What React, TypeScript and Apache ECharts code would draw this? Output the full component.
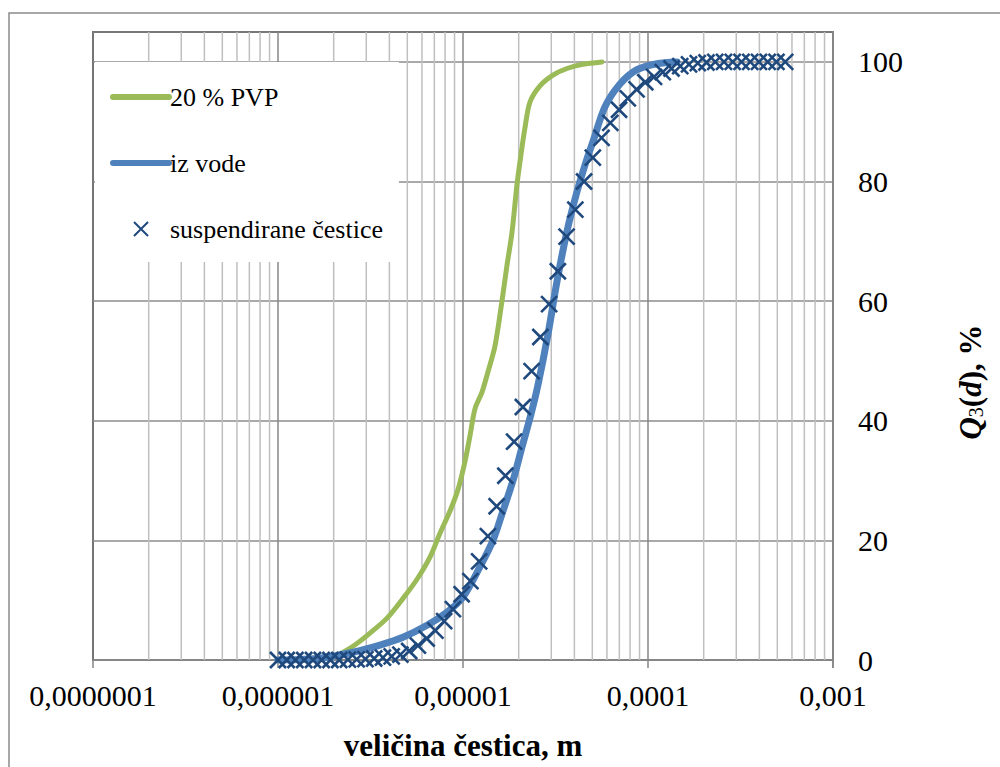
import { useEffect, useRef } from 'react';
import * as echarts from 'echarts';

const xTickLabels = ['0,0000001', '0,000001', '0,00001', '0,0001', '0,001'];
const seriesNames = ['20 % PVP', 'iz vode', 'suspendirane čestice'];

const minorGridX = [
  2e-7, 3e-7, 4e-7, 5e-7, 6e-7, 7e-7, 8e-7, 9e-7,
  2e-6, 3e-6, 4e-6, 5e-6, 6e-6, 7e-6, 8e-6, 9e-6,
  2e-5, 3e-5, 4e-5, 5e-5, 6e-5, 7e-5, 8e-5, 9e-5,
  2e-4, 3e-4, 4e-4, 5e-4, 6e-4, 7e-4, 8e-4, 9e-4,
];

const pvpX = [
  1.0e-6, 1.315e-6, 1.687e-6, 1.983e-6, 2.543e-6, 3.143e-6, 3.884e-6, 4.74e-6,
  5.642e-6, 6.63e-6, 7.509e-6, 8.504e-6, 9.397e-6, 1.025e-5, 1.091e-5, 1.161e-5,
  1.267e-5, 1.365e-5, 1.489e-5, 1.624e-5, 1.729e-5, 1.84e-5, 1.958e-5, 2.058e-5,
  2.163e-5, 2.302e-5, 2.607e-5, 3.065e-5, 3.65e-5, 4.453e-5, 5.641e-5,
];
const pvpY = [
  0, 0, 0.2, 0.5, 2.3, 4.5, 7, 10.3,
  13.5, 17.2, 21.2, 24.9, 28.5, 33.2, 37.5, 42,
  44.8, 48.2, 52.5, 60, 66, 71.5, 79.5, 84.5,
  89, 93.3, 96, 97.8, 98.9, 99.6, 100,
];

const vodaX = [
  1.0e-6, 1.315e-6, 1.687e-6, 2.543e-6, 3.558e-6, 4.74e-6, 6.39e-6, 8.19e-6,
  1.0e-5, 1.236e-5, 1.453e-5, 1.624e-5, 1.863e-5, 2.084e-5, 2.331e-5, 2.543e-5,
  2.881e-5, 3.222e-5, 3.65e-5, 4.133e-5, 4.68e-5, 5.044e-5, 5.855e-5, 7.056e-5,
  8.72e-5, 1.118e-4, 1.435e-4,
];
const vodaY = [
  0, 0.1, 0.3, 1.3, 2.5, 3.8, 5.8, 8,
  10.5, 15.6, 20, 24.4, 30, 35.6, 41.1, 46,
  54.5, 63.3, 71.7, 78.3, 83.8, 86.7, 92.5, 96.3,
  98.7, 99.7, 100,
];

const susX = [
  1.0e-6, 1.115e-6, 1.243e-6, 1.386e-6, 1.546e-6, 1.723e-6, 1.921e-6, 2.142e-6,
  2.388e-6, 2.663e-6, 2.969e-6, 3.311e-6, 3.692e-6, 4.116e-6, 4.589e-6, 5.117e-6,
  5.706e-6, 6.362e-6, 7.094e-6, 7.909e-6, 8.819e-6, 9.833e-6, 1.0965e-5, 1.2226e-5,
  1.363e-5, 1.52e-5, 1.694e-5, 1.889e-5, 2.107e-5, 2.349e-5, 2.619e-5, 2.92e-5,
  3.256e-5, 3.63e-5, 4.048e-5, 4.513e-5, 5.032e-5, 5.611e-5, 6.256e-5, 6.975e-5,
  7.777e-5, 8.672e-5, 9.669e-5, 1.078e-4, 1.202e-4, 1.34e-4, 1.494e-4, 1.666e-4,
  1.858e-4, 2.071e-4, 2.31e-4, 2.575e-4, 2.871e-4, 3.202e-4, 3.57e-4, 3.98e-4,
  4.438e-4, 4.948e-4, 5.517e-4,
];
const susY = [
  0, 0, 0, 0, 0, 0, 0, 0,
  0.05, 0.1, 0.15, 0.25, 0.4, 0.6, 0.9, 1.5,
  2.4, 3.6, 4.9, 6.5, 8.5, 11, 13.2, 16.5,
  20.7, 25.7, 30.8, 36.5, 42.3, 48.3, 54, 59.5,
  65, 70.8, 75.3, 80, 84, 87.3, 89.8, 92,
  93.9, 95.4, 96.6, 97.5, 98.3, 98.9, 99.3, 99.6,
  99.8, 99.9, 100, 100, 100, 100, 100, 100,
  100, 100, 100,
];

const GREEN = '#9BBB59';
const BLUE = '#4F81BD';
const MARK = '#1F497D';
const FONT = '"Liberation Serif", "Times New Roman", serif';

export default function App() {
  const ref = useRef<HTMLDivElement>(null);
  useEffect(() => {
    const chart = echarts.init(ref.current!, null, { renderer: 'svg' });
    const zip = (xs: number[], ys: number[]) => xs.map((x, i) => [x, ys[i]]);
    chart.setOption({
      animation: false,
      backgroundColor: '#ffffff',
      textStyle: { fontFamily: FONT },
      grid: {
        left: 93, right: 167, top: 32, bottom: 107,
        show: true, borderColor: '#000', borderWidth: 1.5,
      },
      legend: {
        show: true,
        orient: 'vertical',
        left: 95,
        top: 62,
        backgroundColor: '#ffffff',
        padding: [20, 16, 18, 15],
        itemGap: 36,
        itemWidth: 56,
        itemHeight: 14,
        textStyle: { fontSize: 26, fontFamily: FONT, color: '#000', lineHeight: 30, padding: [0, 0, 0, -4] },
        data: [
          { name: seriesNames[0], itemStyle: { opacity: 0 }, lineStyle: { width: 6, cap: 'round', color: GREEN } },
          { name: seriesNames[1], itemStyle: { opacity: 0 }, lineStyle: { width: 6, cap: 'round', color: BLUE } },
          { name: seriesNames[2] },
        ],
      },
      xAxis: {
        type: 'log',
        logBase: 10,
        min: 1e-7,
        max: 1e-3,
        axisLine: { show: true, onZero: false, lineStyle: { color: '#868686', width: 2 } },
        axisTick: { show: true, length: 8, lineStyle: { color: '#868686', width: 1.5 } },
        axisLabel: {
          formatter: (_v: number, i: number) => xTickLabels[i] ?? '',
          fontSize: 30, fontFamily: FONT, color: '#000', margin: 20,
        },
        splitLine: { show: true, lineStyle: { color: '#878787', width: 1.5 } },
        name: 'veličina čestica, m',
        nameLocation: 'middle',
        nameGap: 70,
        nameTextStyle: { fontSize: 31, fontWeight: 'bold', fontFamily: FONT, color: '#000' },
      },
      yAxis: {
        type: 'value',
        position: 'right',
        min: 0,
        max: 105,
        interval: 20,
        axisLine: { show: true, lineStyle: { color: '#868686', width: 2 } },
        axisTick: { show: false },
        axisLabel: {
          formatter: (v: number) => (v > 100 ? '' : String(v)),
          fontSize: 30, fontFamily: FONT, color: '#000', margin: 25,
        },
        splitLine: { show: true, lineStyle: { color: '#8c8c8c', width: 1.5 } },
      },
      graphic: [
        {
          type: 'rect',
          z: -10,
          shape: { x: 9, y: 13, width: 1200, height: 1000 },
          style: { fill: 'none', stroke: '#8a8a8a', lineWidth: 1.5 },
          silent: true,
        },
        {
          type: 'text',
          x: 970,
          y: 382,
          rotation: Math.PI / 2,
          style: {
            text: '{q|Q}{s|3}{n|(}{i|d}{n|), %}',
            align: 'center',
            verticalAlign: 'middle',
            fill: '#000',
            rich: {
              q: { fontSize: 31, fontWeight: 'bold', fontStyle: 'italic', fontFamily: FONT, fill: '#000' },
              s: { fontSize: 20, fontFamily: FONT, fill: '#000', verticalAlign: 'bottom', padding: [12, 0, 0, 0] },
              n: { fontSize: 31, fontWeight: 'bold', fontFamily: FONT, fill: '#000' },
              i: { fontSize: 31, fontWeight: 'bold', fontStyle: 'italic', fontFamily: FONT, fill: '#000' },
            },
          },
        },
      ],
      series: [
        {
          type: 'custom',
          name: '_minorGrid',
          silent: true,
          z: 1,
          data: minorGridX.map((v) => [v, 0]),
          encode: { x: 0, y: 1 },
          renderItem: (_params: any, api: any) => {
            const v = api.value(0);
            const top = api.coord([v, 105]);
            const bot = api.coord([v, 0]);
            return {
              type: 'line',
              shape: { x1: top[0], y1: top[1], x2: bot[0], y2: bot[1] },
              style: { stroke: '#BFBFBF', lineWidth: 1.5 },
            };
          },
        },
        {
          type: 'line',
          name: seriesNames[0],
          data: zip(pvpX, pvpY),
          symbol: 'none',
          smooth: 0.3,
          lineStyle: { color: GREEN, width: 5, cap: 'round' },
          itemStyle: { color: GREEN },
          z: 3,
        },
        {
          type: 'line',
          name: seriesNames[1],
          data: zip(vodaX, vodaY),
          symbol: 'none',
          smooth: 0.3,
          lineStyle: { color: BLUE, width: 7, cap: 'round' },
          itemStyle: { color: BLUE },
          z: 4,
        },
        {
          type: 'scatter',
          name: seriesNames[2],
          data: zip(susX, susY),
          symbol: 'path://M0,0L10,10M10,0L0,10',
          symbolSize: 16,
          symbolKeepAspect: true,
          itemStyle: { color: MARK, borderColor: MARK, borderWidth: 2.6, opacity: 1 },
          z: 5,
        },
      ],
    });
    return () => chart.dispose();
  }, []);
  return (
    <div
      ref={ref}
      style={{ position: 'absolute', left: 0, top: 0, width: 1000, height: 767, background: '#fff' }}
    />
  );
}
